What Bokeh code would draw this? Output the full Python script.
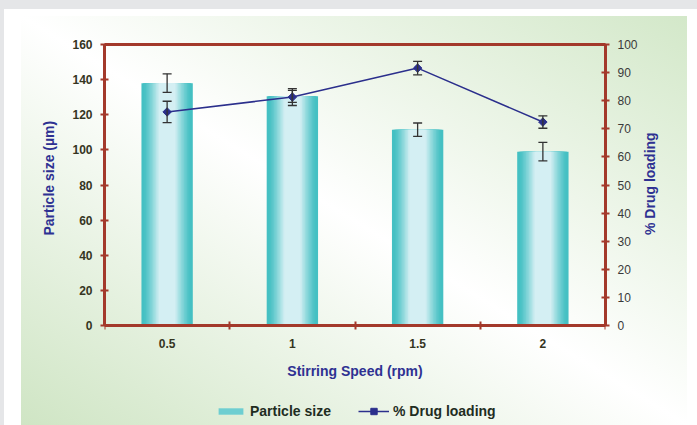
import math
from bokeh.plotting import figure
from bokeh.models import (Range1d, LinearAxis, FixedTicker, ColumnDataSource, Whisker,
                          TeeHead, Legend, LegendItem, Title)
from bokeh.embed import file_html
from bokeh.resources import INLINE

# ---------------- data ----------------
speeds = ["0.5", "1", "1.5", "2"]
particle_size = [138, 130.5, 111.5, 99]
particle_err = [5.3, 3.4, 3.8, 5.3]
drug_loading = [76.0, 81.3, 91.6, 72.4]
drug_err = [3.8, 3.0, 2.4, 2.2]
left_ticks = [0, 20, 40, 60, 80, 100, 120, 140, 160]
right_ticks = [0, 10, 20, 30, 40, 50, 60, 70, 80, 90, 100]

# ---------------- styling ----------------
AXIS_RED = "#a3392b"
NAVY = "#2e3192"
FONT = "Liberation Sans"
W, H = 697, 425
TOP, BOTTOM_AXIS = 44, 325          # pixel rows of the 160 / 0 levels
EXTRA = (H - BOTTOM_AXIS) / (BOTTOM_AXIS - TOP)   # room under the axis for labels + legend

x = [i + 0.5 for i in range(len(speeds))]
src = ColumnDataSource(dict(
    x=x, size=particle_size,
    size_up=[v + e for v, e in zip(particle_size, particle_err)],
    size_lo=[v - e for v, e in zip(particle_size, particle_err)],
    drug=drug_loading,
    drug_up=[v + e for v, e in zip(drug_loading, drug_err)],
    drug_lo=[v - e for v, e in zip(drug_loading, drug_err)],
))

lmax, rmax = left_ticks[-1], right_ticks[-1]
p = figure(width=W, height=H, output_backend="svg", toolbar_location=None,
           x_range=Range1d(0, len(speeds)), y_range=Range1d(-lmax * EXTRA, lmax),
           min_border_left=104, min_border_right=92, min_border_top=TOP, min_border_bottom=0)
p.extra_y_ranges = {"drug": Range1d(-rmax * EXTRA, rmax)}

p.styles = {
    "background": ("linear-gradient(to top right, #cfe5c4 0%, #ffffff 50%, #d3e8c9 100%) "
                   "21px 16px / 666px 409px no-repeat, "
                   "linear-gradient(#ffffff, #ffffff) 4px 9px / 693px 416px no-repeat, #e5e6e8"),
}
p.border_fill_color = None
p.background_fill_color = None
p.outline_line_color = None
p.xgrid.visible = False
p.ygrid.visible = False

# bars with a horizontal cyan gradient (nested bars)
dark = (0x45, 0xc0, 0xc3)
light = (0xd4, 0xef, 0xf3)
N = 14
bar_w = 0.41
legend_bar = None
for k in range(N):
    t = k / (N - 1)
    w = bar_w * (1 - 0.74 * t)
    tt = min(1.0, max(0.0, (t - 0.1) / 0.8)) ** 1.2
    c = "#%02x%02x%02x" % tuple(int(round(d + (l - d) * tt)) for d, l in zip(dark, light))
    r = p.vbar(x="x", top="size", width=w, bottom=0, source=src, fill_color=c, line_color=None)
    if k == 5:
        legend_bar = r

# particle size error bars
wb = Whisker(source=src, base="x", upper="size_up", lower="size_lo", dimension="height",
             line_color="#333333", line_width=1.3, level="overlay",
             upper_head=TeeHead(size=9, line_color="#333333", line_width=1.3),
             lower_head=TeeHead(size=9, line_color="#333333", line_width=1.3))
p.add_layout(wb)

# drug loading line
ln = p.line(x="x", y="drug", source=src, y_range_name="drug", line_color="#2b2f8c", line_width=1.5)
mk = p.scatter(x="x", y="drug", source=src, y_range_name="drug", marker="square", angle=math.pi / 4,
               size=6, fill_color="#2b2f8c", line_color="#2b2f8c")
wd = Whisker(source=src, base="x", upper="drug_up", lower="drug_lo", dimension="height",
             y_range_name="drug", line_color="#333333", line_width=1.3, level="overlay",
             upper_head=TeeHead(size=9, line_color="#333333", line_width=1.3),
             lower_head=TeeHead(size=9, line_color="#333333", line_width=1.3))
p.add_layout(wd)

# ---------------- axes ----------------
xa = p.xaxis[0]
xa.fixed_location = 0
xa.ticker = FixedTicker(ticks=x, minor_ticks=list(range(len(speeds) + 1)))
xa.major_label_overrides = {xi: s for xi, s in zip(x, speeds)}
xa.major_tick_line_color = None
xa.major_tick_out = 0
xa.major_tick_in = 0
xa.minor_tick_line_color = AXIS_RED
xa.minor_tick_line_width = 2
xa.minor_tick_in = 4
xa.minor_tick_out = 4
xa.axis_line_color = AXIS_RED
xa.axis_line_width = 3
xa.major_label_text_font = FONT
xa.major_label_text_font_size = "12px"
xa.major_label_text_font_style = "bold"
xa.major_label_text_color = "#35351f"
xa.major_label_standoff = 9
xa.axis_label = "Stirring Speed (rpm)"
xa.axis_label_text_font = FONT
xa.axis_label_text_font_size = "14px"
xa.axis_label_text_font_style = "bold"
xa.axis_label_text_color = NAVY
xa.axis_label_standoff = 12

# top border line
ta = LinearAxis(ticker=FixedTicker(ticks=[]), axis_line_color=AXIS_RED, axis_line_width=3,
                major_tick_line_color=None, minor_tick_line_color=None,
                major_label_text_font_size="0px")
p.add_layout(ta, "above")

ya = p.yaxis[0]
ya.bounds = (left_ticks[0], lmax)
ya.ticker = FixedTicker(ticks=left_ticks)
ya.minor_tick_line_color = None
ya.major_tick_in = 4
ya.major_tick_out = 4
ya.major_tick_line_color = AXIS_RED
ya.major_tick_line_width = 2
ya.axis_line_color = AXIS_RED
ya.axis_line_width = 3
ya.major_label_text_font = FONT
ya.major_label_text_font_size = "12px"
ya.major_label_text_font_style = "bold"
ya.major_label_text_color = "#35351f"
ya.major_label_standoff = 8

# left axis title, placed beside the 0..160 part of the axis
lt = Title(text="Particle size (µm)", align="left", vertical_align="middle",
           offset=H - 235, text_font=FONT, text_font_size="14px",
           text_font_style="bold", text_color=NAVY)
if "standoff" in lt.properties():
    lt.standoff = 24
p.add_layout(lt, "left")

ra = LinearAxis(y_range_name="drug", ticker=FixedTicker(ticks=right_ticks))
ra.bounds = (right_ticks[0], rmax)
ra.minor_tick_line_color = None
ra.major_tick_in = 4
ra.major_tick_out = 4
ra.major_tick_line_color = AXIS_RED
ra.major_tick_line_width = 2
ra.axis_line_color = AXIS_RED
ra.axis_line_width = 3
ra.major_label_text_font = FONT
ra.major_label_text_font_size = "12px"
ra.major_label_text_color = "#3a3a3a"
ra.major_label_standoff = 8
ra.axis_label = "% Drug loading"
ra.axis_label_text_font = FONT
ra.axis_label_text_font_size = "14px"
ra.axis_label_text_font_style = "bold"
ra.axis_label_text_color = NAVY
ra.axis_label_standoff = 9
if "axis_label_orientation" in ra.properties():
    ra.axis_label_orientation = math.pi / 2
p.add_layout(ra, "right")

# ---------------- legends ----------------
def make_legend(items, loc, gh):
    lg = Legend(items=items, location=loc, orientation="horizontal",
                padding=0, margin=0, spacing=0, glyph_width=31, glyph_height=gh,
                label_height=16, label_standoff=4, border_line_color=None,
                background_fill_alpha=0, label_text_font=FONT, label_text_font_size="14px",
                label_text_font_style="bold", label_text_color="#1f2d1f")
    p.add_layout(lg)

make_legend([LegendItem(label="Particle size", renderers=[legend_bar])], (111, 6), 8)
make_legend([LegendItem(label="% Drug loading", renderers=[ln, mk])], (254, 6), 16)

open("out.html", "w").write(file_html(p, INLINE))
